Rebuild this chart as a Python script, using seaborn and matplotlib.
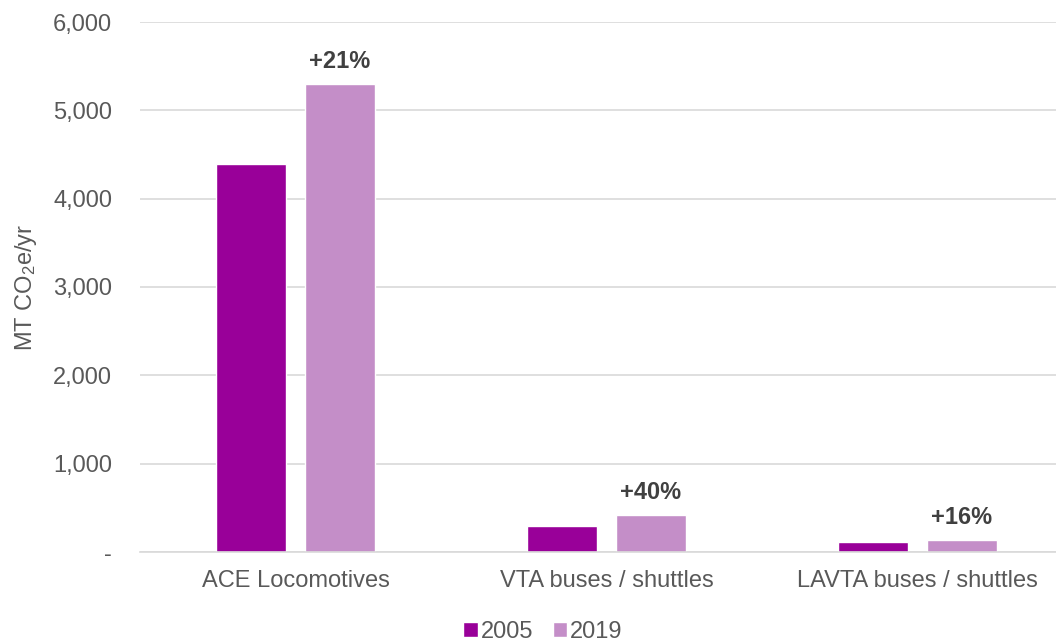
import matplotlib
matplotlib.use("Agg")
import matplotlib.pyplot as plt
import seaborn as sns
import pandas as pd
from matplotlib.ticker import FuncFormatter, MultipleLocator

categories = ["ACE Locomotives", "VTA buses / shuttles", "LAVTA buses / shuttles"]
years = ["2005", "2019"]
values_2005 = [4395, 295, 117]
values_2019 = [5300, 415, 136]
change_labels = ["+21%", "+40%", "+16%"]
colors = ["#990099", "#C48EC8"]

df = pd.DataFrame({
    "category": categories * 2,
    "year": [years[0]] * 3 + [years[1]] * 3,
    "value": values_2005 + values_2019,
})

sns.set_theme(style="white")
plt.rcParams["font.family"] = ["Liberation Sans", "DejaVu Sans"]
plt.rcParams["mathtext.fontset"] = "custom"
plt.rcParams["mathtext.rm"] = "Liberation Sans"
plt.rcParams["mathtext.default"] = "regular"

fig = plt.figure(figsize=(10.56, 6.41), dpi=100)
ax = fig.add_axes([140 / 1056, 1 - 552 / 641, 933 / 1056, 530 / 641])

sns.barplot(data=df, x="category", y="value", hue="year", palette=colors,
            width=0.572, gap=0.213, ax=ax, legend=True, saturation=1)

ax.set_ylim(0, 6000)
ax.set_xlim(-0.5, 2.5)
ax.yaxis.set_major_locator(MultipleLocator(1000))
ax.yaxis.set_major_formatter(FuncFormatter(lambda v, p: "-" if v == 0 else f"{int(v):,}"))
ax.grid(axis="y", color="#D9D9D9", linewidth=1.2)
ax.set_axisbelow(True)
for s in ["top", "right", "left"]:
    ax.spines[s].set_visible(False)
ax.spines["bottom"].set_color("#D9D9D9")
ax.spines["bottom"].set_linewidth(1.2)
ax.tick_params(axis="both", length=0, labelsize=17, colors="#595959")
ax.tick_params(axis="y", pad=20)
ax.tick_params(axis="x", pad=13)
ax.set_xlabel("")
ax.set_ylabel("MT CO$_2$e/yr", fontsize=17, color="#595959", labelpad=10)

# change labels above 2019 bars
bars_2019 = ax.containers[1]
for bar, lab in zip(bars_2019, change_labels):
    ax.annotate(lab, (bar.get_x() + bar.get_width() / 2, bar.get_height()),
                xytext=(0, 8), textcoords="offset points", ha="center", va="bottom",
                fontsize=17, fontweight="bold", color="#404040")

handles, labels = ax.get_legend_handles_labels()
ax.legend(handles, labels, loc="lower center", bbox_to_anchor=(0.432, -0.212),
          ncol=2, frameon=False, fontsize=17, handlelength=0.6, handleheight=0.6,
          handletextpad=0.15, columnspacing=0.8, labelcolor="#595959")

fig.savefig("out.png", dpi=100)
